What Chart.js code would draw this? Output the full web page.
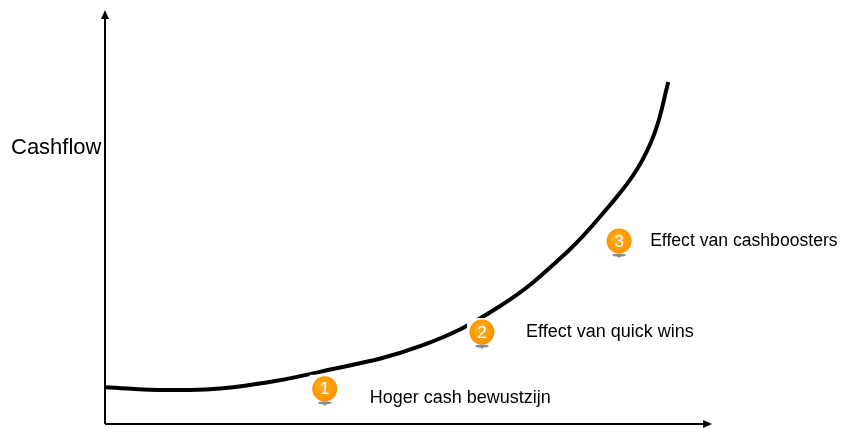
<!DOCTYPE html>
<html>
<head>
<meta charset="utf-8">
<script src="https://cdn.jsdelivr.net/npm/chart.js@4/dist/chart.umd.min.js"></script>
<style>
  body { margin: 0; background: #fff; }
  #wrap { position: relative; width: 841px; height: 429px; }
</style>
</head>
<body>
<div id="wrap"><canvas id="myChart"></canvas></div>
<script>
// curve (time 0..100, cashflow 0..100)
const curveX = [0, 10.2, 21.1, 35.4, 51.9, 65.1, 76.1, 83.2, 87.6, 90.6, 92.8];
const curveY = [8.9, 8.2, 8.9, 12.6, 18.8, 28.5, 41.5, 52.9, 61.4, 70.5, 82.6];

// numbered steps
const stepX = [36.2, 62.1, 84.7];
const stepY = [8.5, 22.2, 44.2];
const stepLabels = ['Hoger cash bewustzijn', 'Effect van quick wins', 'Effect van cashboosters'];
const stepLabelOffset = [45, 44, 31];

const yTitle = 'Cashflow';

const curveData = curveX.map((x, i) => ({ x: x, y: curveY[i] }));
const stepData = stepX.map((x, i) => ({ x: x, y: stepY[i] }));

const FONT = '"Liberation Sans", Arial, sans-serif';

const decorPlugin = {
  id: 'decor',
  afterDatasetsDraw(chart) {
    const ctx = chart.ctx;
    const a = chart.chartArea;
    ctx.save();

    // axes with arrow heads
    ctx.strokeStyle = '#000';
    ctx.fillStyle = '#000';
    ctx.lineWidth = 2;
    ctx.beginPath();
    ctx.moveTo(a.left, a.bottom);
    ctx.lineTo(a.left, a.top + 6);
    ctx.moveTo(a.left, a.bottom);
    ctx.lineTo(a.right - 6, a.bottom);
    ctx.stroke();
    ctx.beginPath();
    ctx.moveTo(a.left, a.top);
    ctx.lineTo(a.left - 4, a.top + 9);
    ctx.lineTo(a.left + 4, a.top + 9);
    ctx.closePath();
    ctx.fill();
    ctx.beginPath();
    ctx.moveTo(a.right, a.bottom);
    ctx.lineTo(a.right - 9, a.bottom - 4);
    ctx.lineTo(a.right - 9, a.bottom + 4);
    ctx.closePath();
    ctx.fill();

    // y title
    ctx.font = '22px ' + FONT;
    ctx.textBaseline = 'middle';
    ctx.textAlign = 'left';
    ctx.fillText(yTitle, 11, 148);

    // step markers
    const meta = chart.getDatasetMeta(1);
    meta.data.forEach((pt, i) => {
      const x = pt.x, y = pt.y;
      // white backing of the marker picture cuts the curve
      ctx.fillStyle = '#fff';
      ctx.fillRect(x - 15, y - 14, 30, 31);

      // shadow
      ctx.fillStyle = '#8a8a8a';
      ctx.beginPath();
      ctx.ellipse(x, y + 14, 7, 1.6, 0, 0, Math.PI * 2);
      ctx.fill();
      ctx.beginPath();
      ctx.moveTo(x - 3, y + 14);
      ctx.lineTo(x, y + 17);
      ctx.lineTo(x + 3, y + 14);
      ctx.fill();

      const g = ctx.createRadialGradient(x - 3, y - 4, 1, x, y, 13);
      g.addColorStop(0, '#ffb02a');
      g.addColorStop(0.7, '#ff9c00');
      g.addColorStop(1, '#f59200');
      ctx.fillStyle = g;
      ctx.beginPath();
      ctx.arc(x, y, 12.5, 0, Math.PI * 2);
      ctx.fill();

      ctx.fillStyle = '#fff';
      ctx.font = '17px ' + FONT;
      ctx.textAlign = 'center';
      ctx.textBaseline = 'middle';
      ctx.fillText(String(i + 1), x, y + 1);

      ctx.fillStyle = '#000';
      ctx.font = (i === 2 ? '17.6px ' : '18px ') + FONT;
      ctx.textAlign = 'left';
      ctx.fillText(stepLabels[i], x + stepLabelOffset[i], y + 9 - (i === 0 ? 0 : 9));
    });
    ctx.restore();
  }
};

new Chart(document.getElementById('myChart'), {
  type: 'line',
  data: {
    datasets: [{
      data: curveData,
      borderColor: '#000',
      borderWidth: 4,
      pointRadius: 0,
      tension: 0.4,
      fill: false,
      clip: false
    }, {
      data: stepData,
      showLine: false,
      pointRadius: 0,
      borderColor: 'rgba(0,0,0,0)'
    }]
  },
  options: {
    responsive: true,
    maintainAspectRatio: false,
    animation: false,
    layout: { padding: { left: 105, top: 10, right: 129, bottom: 5 } },
    plugins: { legend: { display: false }, tooltip: { enabled: false } },
    scales: {
      x: { type: 'linear', min: 0, max: 100, display: false },
      y: { type: 'linear', min: 0, max: 100, display: false }
    }
  },
  plugins: [decorPlugin]
});
</script>
</body>
</html>
